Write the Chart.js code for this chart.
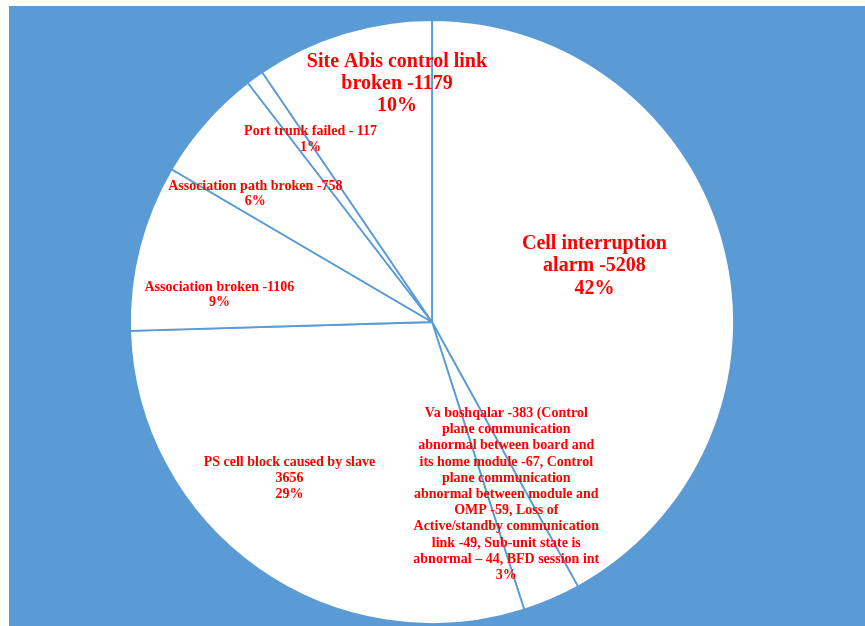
<!DOCTYPE html>
<html>
<head>
<meta charset="utf-8">
<script src="https://cdn.jsdelivr.net/npm/chart.js@4.4.1/dist/chart.umd.min.js"></script>
<style>
html, body { margin: 0; padding: 0; background: #fff; }
#wrap { position: absolute; left: 9px; top: 6px; width: 856px; height: 620px; background: #5b9bd5; }
</style>
</head>
<body>
<div id="wrap"><canvas id="pie-canvas" width="856" height="620"></canvas></div>
<script>
// alarm categories, clockwise from 12 o'clock
var categories = [
  "Cell interruption alarm -5208",
  "Va boshqalar -383 (Control plane communication abnormal between board and its home module -67, Control plane communication abnormal between module and OMP -59, Loss of Active/standby communication link -49, Sub-unit state is abnormal \u2013 44, BFD session int",
  "PS cell block caused by slave 3656",
  "Association broken -1106",
  "Association path broken -758",
  "Port trunk failed - 117",
  "Site Abis control link broken -1179"
];
var counts = [5208, 383, 3656, 1106, 758, 117, 1179];

// where each label sits, relative to the pie centre in units of the radius
var labelLayout = [
  { dx: 0.538, dy: -0.194, size: 20, lineHeight: 22.5, maxWidth: 180 },
  { dx: 0.246, dy: 0.565, size: 14, lineHeight: 16.2, maxWidth: 188 },
  { dx: -0.472, dy: 0.512, size: 14, lineHeight: 16, maxWidth: 185 },
  { dx: -0.704, dy: -0.095, size: 14, lineHeight: 15.5, maxWidth: 220 },
  { dx: -0.585, dy: -0.430, size: 14, lineHeight: 15.5, maxWidth: 220 },
  { dx: -0.402, dy: -0.611, size: 14, lineHeight: 16, maxWidth: 200 },
  { dx: -0.116, dy: -0.797, size: 20, lineHeight: 22, maxWidth: 200 }
];

function wrapText(ctx, text, maxWidth) {
  var words = text.split(' ');
  var lines = [];
  var line = '';
  words.forEach(function (w) {
    var test = line ? line + ' ' + w : w;
    if (line && ctx.measureText(test).width > maxWidth) {
      lines.push(line);
      line = w;
    } else {
      line = test;
    }
  });
  if (line) lines.push(line);
  return lines;
}

var sliceLabels = {
  id: 'sliceLabels',
  afterDatasetsDraw: function (chart) {
    var ctx = chart.ctx;
    var meta = chart.getDatasetMeta(0);
    var data = chart.data.datasets[0].data;
    var total = data.reduce(function (a, b) { return a + b; }, 0);
    meta.data.forEach(function (arc, i) {
      var lay = labelLayout[i];
      var r = arc.outerRadius;
      var x = arc.x + lay.dx * r;
      // 'middle' sits a little high for serif text, nudge it down
      var y = arc.y + lay.dy * r + lay.size * 0.13;
      ctx.save();
      ctx.font = 'bold ' + lay.size + 'px "Liberation Serif", "Times New Roman", serif';
      ctx.fillStyle = '#ff0000';
      ctx.textAlign = 'center';
      ctx.textBaseline = 'middle';
      var lines = wrapText(ctx, chart.data.labels[i], lay.maxWidth);
      lines.push(Math.round(data[i] / total * 100) + '%');
      var y0 = y - (lines.length - 1) * lay.lineHeight / 2;
      lines.forEach(function (t, k) {
        ctx.fillText(t, x, y0 + k * lay.lineHeight);
      });
      ctx.restore();
    });
  }
};

var ctx = document.getElementById('pie-canvas');
var chart = new Chart(ctx, {
  type: 'pie',
  data: {
    labels: categories,
    datasets: [{
      data: counts,
      backgroundColor: '#ffffff',
      borderColor: '#5b9bd5',
      borderWidth: 1.8
    }]
  },
  options: {
    responsive: false,
    animation: false,
    radius: 302,
    layout: { padding: { left: 0, right: 10, top: 12, bottom: 0 } },
    plugins: {
      legend: { display: false },
      tooltip: { enabled: false }
    }
  },
  plugins: [sliceLabels]
});
</script>
</body>
</html>
